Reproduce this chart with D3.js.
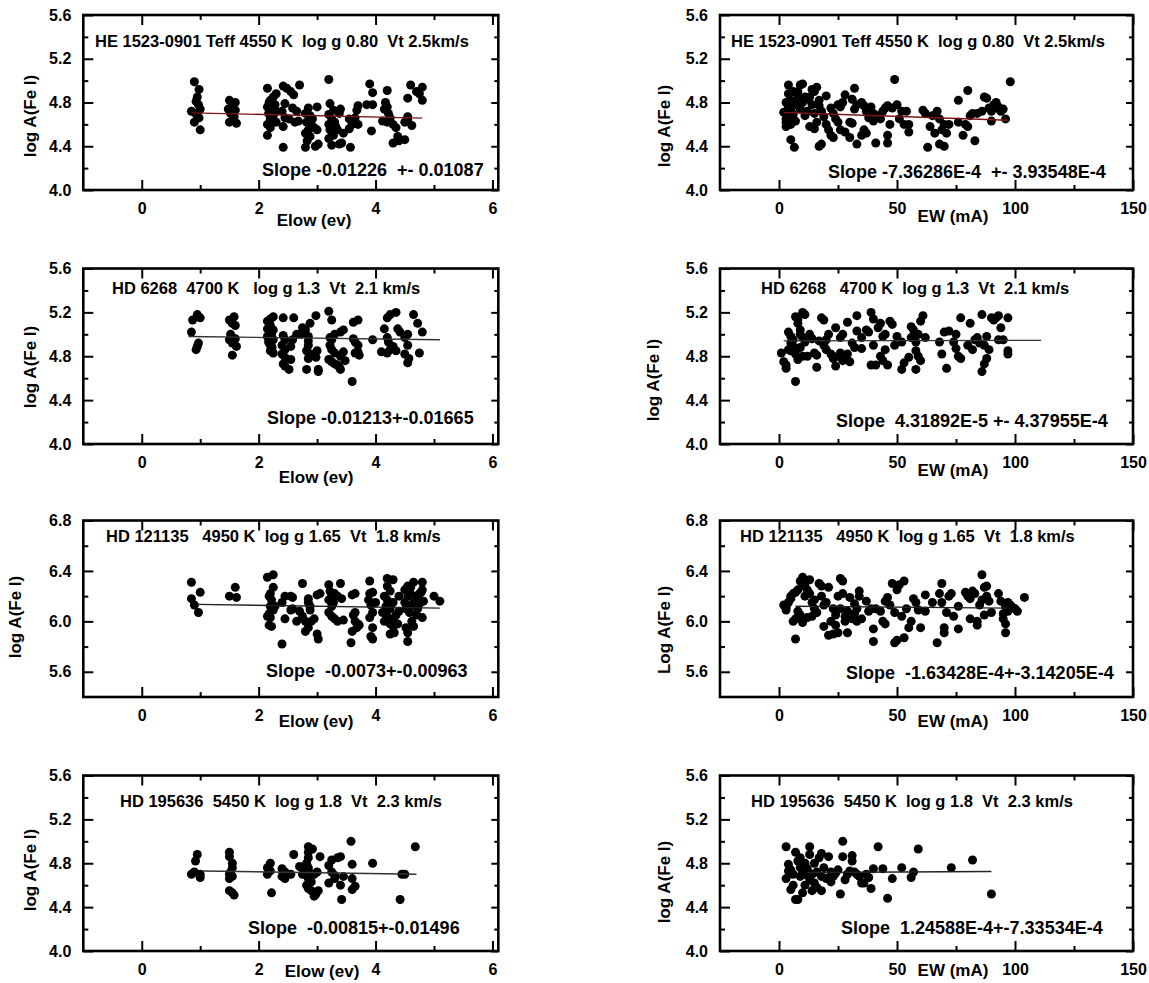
<!DOCTYPE html>
<html><head><meta charset="utf-8">
<script src="https://cdn.jsdelivr.net/npm/d3@7"></script>
<style>html,body{margin:0;padding:0;background:#fff;}text{white-space:pre;}</style>
</head><body>
<script>
// ---------- DATA ----------
// Panel axis ticks
const elowTicks = [0, 2, 4, 6];
const elowMinor = [1, 3, 5];
const ewTicks = [0, 50, 100, 150];
const ewMinor = [25, 75, 125];
const yTicksLow = [4.0, 4.4, 4.8, 5.2, 5.6];
const yMinorLow = [4.2, 4.6, 5.0, 5.4];
const yTicksHigh = [5.6, 6.0, 6.4, 6.8];
const yMinorHigh = [5.8, 6.2, 6.6];

// HE 1523-0901 : [Elow, logA]
const he1523Elow = [
[0.9,4.99],[0.98,4.92],[0.95,4.85],[0.93,4.81],[0.97,4.78],[0.85,4.72],[1.0,4.74],[0.92,4.70],[0.98,4.66],[0.9,4.62],[1.0,4.55],[0.95,4.68],
[1.5,4.82],[1.6,4.80],[1.55,4.77],[1.48,4.74],[1.6,4.73],[1.52,4.70],[1.58,4.67],[1.5,4.62],[1.62,4.61],
[2.15,4.93],[2.3,4.88],[2.25,4.85],[2.2,4.82],[2.18,4.80],[2.28,4.78],[2.15,4.76],[2.22,4.74],[2.3,4.72],[2.17,4.70],[2.25,4.68],[2.2,4.65],[2.15,4.60],[2.2,4.57],[2.15,4.50],[2.3,4.62],
[2.42,4.95],[2.48,4.93],[2.45,4.79],[2.4,4.72],[2.45,4.66],[2.42,4.58],[2.42,4.39],
[2.55,4.90],[2.6,4.87],[2.58,4.75],[2.52,4.65],[2.62,4.62],[2.7,4.96],[2.65,4.72],[2.68,4.63],
[2.85,4.75],[2.8,4.70],[2.88,4.68],[2.82,4.62],[2.9,4.60],[2.85,4.55],[2.8,4.52],[2.88,4.49],[2.83,4.45],[2.8,4.39],[2.95,4.57],[3.0,4.76],[3.0,4.55],[3.02,4.42],[2.97,4.40],[2.92,4.65],
[3.2,5.01],[3.22,4.79],[3.28,4.73],[3.2,4.69],[3.25,4.65],[3.3,4.62],[3.2,4.60],[3.32,4.58],[3.22,4.55],[3.28,4.50],[3.2,4.47],[3.25,4.41],[3.35,4.55],[3.4,4.74],[3.38,4.70],[3.42,4.43],[3.38,4.42],[3.45,4.52],
[3.55,4.65],[3.6,4.60],[3.55,4.56],[3.57,4.39],[3.7,4.77],[3.68,4.73],[3.65,4.66],[3.7,4.60],
[3.9,4.97],[3.85,4.78],[3.95,4.89],[3.95,4.78],[3.93,4.54],[4.12,4.63],
[4.2,4.91],[4.17,4.80],[4.2,4.76],[4.15,4.74],[4.22,4.70],[4.25,4.66],[4.2,4.62],[4.3,4.60],[4.35,4.57],[4.3,4.43],[4.4,4.45],[4.38,4.49],
[4.55,4.84],[4.6,4.96],[4.55,4.67],[4.55,4.64],[4.5,4.62],[4.62,4.59],[4.5,4.46],[4.7,4.90],[4.75,4.88],[4.8,4.94],[4.8,4.82]
];
const he1523ElowFit = [[0.85, 4.705], [4.8, 4.657]];

// HE 1523-0901 : [EW, logA]
const he1523EW = [
[2,4.71],[3,4.62],[3,4.58],[4,4.96],[4,4.88],[5,4.82],[3,4.80],[4,4.76],[5,4.73],[6,4.69],[4,4.67],[3,4.65],[5,4.60],[7,4.63],[8,4.85],[8,4.90],[9,4.96],[10,4.97],[6,4.90],[7,4.78],[9,4.74],[5,4.46],[6.5,4.39],[10,4.80],[11,4.85],[12,4.72],[12,4.83],[11,4.68],
[14,4.92],[15,4.90],[16,4.94],[13,4.85],[14,4.78],[15,4.70],[13,4.58],[15,4.56],[17,4.82],[17,4.77],[18,4.72],[16,4.62],[17,4.40],[18,4.42],[20,4.86],[19,4.67],[20,4.60],
[21,4.55],[22,4.50],[23,4.48],[22,4.75],[23,4.70],[24,4.65],[25,4.62],[26,4.76],[25,4.78],[27,4.80],[28,4.87],[28,4.53],[26,4.55],[30,4.62],[30,4.48],
[32,4.93],[31,4.83],[33,4.78],[32,4.74],[31,4.61],[33,4.42],[35,4.80],[36,4.77],[37,4.72],[36,4.55],[35,4.50],[37,4.52],[38,4.66],[39,4.76],[40,4.70],[41,4.43],[40,4.63],
[42,4.68],[43,4.65],[44,4.72],[45,4.75],[46,4.77],[47,4.60],[46,4.50],[46,4.43],[48,4.75],[49,5.01],[50,4.78],[51,4.65],[52,4.72],[53,4.60],
[54,4.72],[55,4.60],[55,4.53],[61,4.73],[62,4.70],[63,4.39],[64,4.58],[65,4.68],[66,4.52],[67,4.72],[68,4.65],[69,4.55],[70,4.60],[68,4.42],[70,4.40],[71,4.52],[72,4.60],
[76,4.82],[76,4.62],[78,4.50],[79,4.60],[80,4.91],[80,4.58],[81,4.68],[82,4.70],[83,4.45],[84,4.70],[86,4.72],[87,4.85],[88,4.84],[89,4.75],[90,4.63],[90,4.72],[91,4.78],[92,4.80],[93,4.76],[94,4.72],[95,4.74],[96,4.65],[98,4.99],[92,4.75]
];
const he1523EWFit = [[2, 4.708], [97, 4.638]];

// HD 6268 : [Elow, logA]
const hd6268Elow = [
[0.87,5.13],[0.95,5.18],[1.0,5.15],[0.85,5.02],[0.97,4.92],[0.95,4.89],[0.93,4.86],
[1.5,5.13],[1.55,5.10],[1.58,5.16],[1.6,5.08],[1.52,5.00],[1.55,4.97],[1.6,4.96],[1.5,4.95],[1.55,4.92],[1.62,4.89],[1.55,4.81],
[2.25,5.16],[2.2,5.14],[2.15,5.12],[2.2,5.08],[2.15,5.05],[2.25,5.04],[2.18,5.02],[2.22,5.00],[2.15,4.98],[2.2,4.96],[2.25,4.95],[2.17,4.93],[2.2,4.90],[2.23,4.88],[2.2,4.85],[2.25,4.83],
[2.42,5.15],[2.42,4.99],[2.45,4.95],[2.4,4.90],[2.45,4.86],[2.4,4.82],[2.45,4.79],[2.42,4.73],[2.45,4.71],[2.52,4.68],[2.55,4.77],[2.55,4.89],[2.58,4.95],[2.6,5.15],[2.65,5.00],
[2.75,5.06],[2.8,5.04],[2.72,5.00],[2.85,4.98],[2.85,4.94],[2.88,5.10],[2.85,4.90],[2.82,4.85],[2.88,4.82],[2.85,4.78],[2.82,4.68],[2.95,4.82],[2.98,4.79],[3.0,4.85],[2.98,5.17],[3.02,4.66],[3.02,4.68],
[3.2,5.21],[3.25,5.13],[3.22,4.97],[3.25,4.95],[3.22,4.90],[3.25,4.86],[3.3,4.83],[3.2,4.77],[3.25,4.75],[3.3,4.73],[3.35,4.72],[3.38,4.70],[3.4,4.68],[3.3,5.00],[3.4,5.02],[3.45,5.04],[3.4,4.80],[3.45,4.84],[3.48,4.76],
[3.6,4.57],[3.62,5.11],[3.7,5.13],[3.62,4.96],[3.65,4.93],[3.7,4.90],[3.65,4.83],[3.72,4.81],[3.7,4.84],
[3.95,4.95],
[4.2,5.15],[4.25,5.18],[4.35,5.20],[4.15,5.05],[4.2,4.97],[4.22,4.93],[4.3,4.89],[4.25,4.86],[4.1,4.84],[4.2,4.83],[4.35,4.85],[4.38,5.05],[4.42,5.02],
[4.5,4.97],[4.55,5.00],[4.55,4.90],[4.5,4.82],[4.57,4.78],[4.55,4.74],[4.65,5.18],[4.72,5.10],[4.8,5.02],[4.75,4.83]
];
const hd6268ElowFit = [[0.8, 4.98], [5.1, 4.95]];

// HD 6268 : [EW, logA]
const hd6268EW = [
[1,4.83],[2,4.75],[3,4.72],[3,4.69],[4,4.86],[4,5.02],[5,4.98],[6,4.95],[5,4.92],[6,4.89],[5,4.85],[7,4.82],[7,5.16],[8,5.14],[8,5.10],[9,5.04],[10,5.20],[11,5.18],[9,5.00],[10,4.97],[11,4.93],[9,4.88],[10,4.80],[8,4.77],[7,4.57],[12,4.80],[13,5.00],[14,4.96],
[15,4.83],[16,4.70],[16,4.81],[17,4.94],[18,5.15],[19,5.13],[19,4.90],[20,4.95],[20,4.86],[21,5.00],[22,4.82],[23,4.78],[24,5.06],[24,4.71],[25,4.80],[26,4.83],[26,4.97],[27,5.00],[27,4.76],
[28,4.78],[29,4.82],[30,4.75],[29,5.11],[31,4.92],[32,4.88],[33,5.17],[33,5.03],[35,4.87],[35,4.97],[37,5.04],[38,5.02],[39,5.20],[40,5.14],[39,4.72],[40,4.90],[41,4.72],
[42,5.06],[43,5.10],[43,4.80],[44,4.98],[44,4.76],[45,4.86],[45,5.00],[46,4.72],[47,5.12],[48,5.09],[49,4.90],[50,4.98],
[52,4.93],[52,4.68],[53,4.74],[55,4.79],[56,4.97],[56,5.07],[57,5.04],[58,4.85],[58,4.93],[59,5.00],[59,4.80],[58,4.68],[60,4.76],[60,5.12],[61,5.17],[62,4.97],
[68,4.93],[69,4.82],[70,5.02],[71,4.69],[72,5.03],[74,4.93],[75,5.00],[75,4.87],[76,4.80],[77,4.78],[77,5.15],
[80,4.90],[81,5.10],[82,4.86],[83,4.95],[84,4.97],[85,4.92],[86,5.18],[87,4.90],[86,4.66],[87,4.73],[88,4.78],[88,4.98],[89,4.86],[90,5.15],[91,5.13],[92,5.15],[93,5.17],[93,4.95],[94,5.06],[95,4.95],[97,5.15],[97,4.85],[97,4.82]
];
const hd6268EWFit = [[2, 4.94], [111, 4.945]];

// HD 121135 : [Elow, logA]
const hd121135Elow = [
[0.85,6.31],[0.85,6.18],[0.9,6.13],[0.97,6.07],[1.0,6.23],
[1.5,6.20],[1.6,6.27],[1.62,6.19],
[2.15,6.35],[2.25,6.37],[2.25,6.27],[2.2,6.22],[2.18,6.20],[2.22,6.17],[2.2,6.12],[2.25,6.09],[2.18,6.06],[2.2,6.03],[2.15,6.04],[2.22,5.96],[2.18,5.97],[2.28,6.12],
[2.4,6.15],[2.45,6.20],[2.55,6.20],[2.58,6.19],[2.45,6.02],[2.55,6.09],[2.58,6.10],[2.4,5.82],[2.65,6.00],
[2.75,6.30],[2.7,6.08],[2.75,6.04],[2.8,6.00],[2.85,6.18],[2.85,6.15],[2.88,6.09],[2.8,5.92],[2.9,6.00],[2.95,6.02],[3.0,6.21],[3.05,6.22],[3.0,5.90],[3.02,5.86],[2.88,6.12],[2.85,5.95],
[3.2,6.29],[3.22,6.24],[3.25,6.20],[3.2,6.17],[3.28,6.15],[3.25,6.12],[3.2,6.07],[3.25,6.04],[3.3,6.02],[3.35,6.00],[3.4,6.30],[3.35,6.20],[3.42,6.18],[3.45,6.01],[3.3,6.22],
[3.6,6.21],[3.65,6.22],[3.62,6.05],[3.65,6.00],[3.7,5.98],[3.6,5.92],[3.58,5.83],[3.68,5.95],[3.72,5.97],[3.65,6.07],
[3.9,6.32],[3.9,6.22],[3.95,6.23],[3.88,6.17],[3.92,6.13],[3.95,6.07],[3.9,6.03],[3.95,5.95],[3.92,5.88],[3.95,5.86],[4.0,6.15],
[4.2,6.34],[4.3,6.33],[4.2,6.28],[4.25,6.24],[4.15,6.20],[4.2,6.17],[4.3,6.15],[4.18,6.12],[4.25,6.10],[4.12,6.07],[4.2,6.04],[4.3,6.02],[4.15,6.00],[4.25,5.98],[4.3,5.96],[4.35,6.05],[4.38,5.98],[4.25,5.90],[4.32,5.91],[4.4,6.08],[4.4,6.20],
[4.5,6.25],[4.55,6.28],[4.6,6.27],[4.65,6.31],[4.5,6.15],[4.55,6.20],[4.6,6.22],[4.52,6.10],[4.58,6.07],[4.6,6.12],[4.65,6.15],[4.7,6.20],[4.7,6.18],[4.52,5.95],[4.55,5.91],[4.55,5.84],[4.65,5.96],[4.62,6.00],[4.7,6.05],[4.72,6.10],[4.75,6.14],[4.78,6.23],[4.8,6.31],[4.8,6.25],[4.82,6.16],[4.8,6.03],[4.75,6.22],
[5.0,6.20],[5.1,6.16]
];
const hd121135ElowFit = [[0.95, 6.135], [5.1, 6.105]];

// HD 121135 : [EW, logA]
const hd121135EW = [
[2,6.13],[3,6.09],[3,6.11],[4,6.15],[5,6.20],[5,6.18],[6,6.22],[6,6.00],[7,5.86],[7,6.23],[7,6.02],[8,6.08],[9,6.32],[10,6.35],[10,6.28],[8,6.25],[9,6.05],[10,5.99],[11,6.20],[11,6.30],[12,6.25],[12,6.03],[13,6.33],[13,6.22],[14,6.15],[14,6.04],[15,6.17],[15,6.10],[16,6.07],
[17,6.30],[18,6.28],[18,6.20],[19,5.96],[19,6.13],[20,6.15],[21,6.27],[21,5.89],[22,6.00],[23,6.10],[23,5.90],[24,6.05],[24,5.97],[25,6.20],[25,5.91],[26,6.34],[26,6.10],
[27,6.32],[27,6.22],[28,6.04],[28,6.00],[29,5.91],[29,6.08],[30,6.19],[31,6.02],[32,6.06],[32,6.14],[33,6.10],[33,6.00],[34,6.24],[34,6.20],[35,6.02],
[37,6.16],[38,6.08],[39,6.10],[40,5.94],[40,5.84],[41,6.10],[43,6.08],[44,6.00],[45,5.98],[45,6.16],[46,6.19],[47,6.13],[48,6.30],[49,5.83],[49,6.07],[50,6.25],[50,5.85],[51,6.29],[52,6.04],[53,6.32],[53,5.87],
[54,6.10],[55,5.95],[56,6.00],[57,6.18],[58,6.15],[59,6.09],[60,5.95],[62,6.21],[62,6.08],
[65,6.15],[67,5.83],[68,6.22],[69,6.30],[69,6.15],[70,5.95],[70,5.91],[71,6.07],[72,6.20],[73,6.22],[74,6.04],[76,5.94],[76,6.12],
[79,6.23],[80,6.20],[81,6.18],[81,6.02],[82,6.24],[83,6.22],[84,5.97],[84,6.00],[85,6.13],[86,6.17],[86,6.37],[87,6.27],[87,6.05],[88,6.20],[88,6.28],[89,6.16],[90,6.07],[93,6.22],[94,6.16],[95,6.02],[95,6.06],[96,6.12],[96,5.98],[96,5.91],[97,6.08],[97,6.15],[98,6.13],[99,6.11],[100,6.10],[101,6.08],[104,6.19]
];
const hd121135EWFit = [[7, 6.12], [97, 6.105]];

// HD 195636 : [Elow, logA]
const hd195636Elow = [
[0.85,4.70],[0.92,4.82],[0.95,4.88],[0.9,4.72],[1.0,4.70],[1.0,4.67],
[1.5,4.90],[1.5,4.86],[1.55,4.80],[1.55,4.76],[1.5,4.70],[1.5,4.66],[1.55,4.68],[1.5,4.55],[1.55,4.53],[1.58,4.51],[1.52,4.72],
[2.15,4.76],[2.2,4.80],[2.2,4.73],[2.15,4.70],[2.22,4.53],
[2.4,4.75],[2.45,4.72],[2.4,4.68],[2.45,4.66],[2.55,4.70],[2.6,4.88],
[2.7,4.77],[2.75,4.70],[2.85,4.95],[2.85,4.90],[2.85,4.85],[2.82,4.80],[2.85,4.76],[2.8,4.73],[2.88,4.71],[2.82,4.69],[2.85,4.66],[2.9,4.63],[2.82,4.60],[2.85,4.57],[2.9,4.55],[2.95,4.70],[3.0,4.72],[2.95,4.50],[2.98,4.52],[3.02,4.55],[3.05,4.86],[2.92,4.93],
[3.2,4.78],[3.25,4.83],[3.25,4.72],[3.2,4.62],[3.3,4.69],[3.3,4.66],[3.35,4.85],[3.4,4.86],[3.4,4.60],[3.45,4.68],[3.42,4.47],
[3.58,5.00],[3.6,4.79],[3.6,4.66],[3.6,4.56],[3.65,4.59],
[3.95,4.80],
[4.45,4.70],[4.5,4.70],[4.42,4.47],[4.68,4.95]
];
const hd195636ElowFit = [[1.05, 4.73], [4.7, 4.70]];

// HD 195636 : [EW, logA]
const hd195636EW = [
[3,4.95],[4,4.79],[4,4.73],[3,4.66],[5,4.56],[6,4.60],[5,4.74],[6,4.70],[7,4.90],[7,4.47],[8,4.47],[8,4.82],[9,4.85],[9,4.76],[9,4.68],[10,4.53],[10,4.72],[11,4.80],[11,4.60],[12,4.69],[12,4.75],[13,4.95],[13,4.88],[13,4.65],[14,4.55],[14,4.70],[15,4.80],[15,4.62],[16,4.58],[16,4.72],[17,4.85],[18,4.89],[18,4.68],[18,4.55],[19,4.76],[20,4.66],[21,4.86],[22,4.72],[22,4.63],[23,4.68],[24,4.71],[25,4.74],[26,4.52],[27,5.00],[27,4.86],[28,4.65],[29,4.70],[30,4.73],[31,4.87],[31,4.82],[32,4.72],[33,4.70],[34,4.68],[35,4.62],[36,4.62],[37,4.70],[38,4.67],[39,4.57],[40,4.75],[42,4.95],[44,4.75],[46,4.48],[48,4.66],[52,4.76],[56,4.67],[57,4.72],[59,4.93],[73,4.76],[82,4.83],[90,4.52]
];
const hd195636EWFit = [[12, 4.715], [90, 4.725]];

// Texts
const starTitles = [
  "HE 1523-0901 Teff 4550 K  log g 0.80  Vt 2.5km/s",
  "HE 1523-0901 Teff 4550 K  log g 0.80  Vt 2.5km/s",
  "HD 6268  4700 K   log g 1.3  Vt  2.1 km/s",
  "HD 6268   4700 K  log g 1.3  Vt  2.1 km/s",
  "HD 121135   4950 K  log g 1.65  Vt  1.8 km/s",
  "HD 121135   4950 K  log g 1.65  Vt  1.8 km/s",
  "HD 195636  5450 K  log g 1.8  Vt  2.3 km/s",
  "HD 195636  5450 K  log g 1.8  Vt  2.3 km/s"
];
const slopeTexts = [
  "Slope -0.01226  +- 0.01087",
  "Slope -7.36286E-4  +- 3.93548E-4",
  "Slope -0.01213+-0.01665",
  "Slope  4.31892E-5 +- 4.37955E-4",
  "Slope  -0.0073+-0.00963",
  "Slope  -1.63428E-4+-3.14205E-4",
  "Slope  -0.00815+-0.01496",
  "Slope  1.24588E-4+-7.33534E-4"
];
const yTitles = ["log A(Fe I)","log A(Fe I)","log A(Fe I)","log A(Fe I)","log A(Fe I)","Log A(Fe I)","log A(Fe I)","log A(Fe I)"];
const xTitles = ["Elow (ev)","EW (mA)"];

// ---------- LAYOUT ----------
const FONT = "'Liberation Sans', Arial, Helvetica, sans-serif";
const cols = [{left: 83.3, right: 498.3, dom: [-1, 6.1], ticks: elowTicks, minor: elowMinor, xt: xTitles[0]},
              {left: 720, right: 1133, dom: [-25, 150], ticks: ewTicks, minor: ewMinor, xt: xTitles[1]}];
const rows = [{top: 15, bottom: 190, dom: [4.0, 5.6], ticks: yTicksLow, minor: yMinorLow},
              {top: 268.5, bottom: 444, dom: [4.0, 5.6], ticks: yTicksLow, minor: yMinorLow},
              {top: 520.5, bottom: 697, dom: [5.4, 6.8], ticks: yTicksHigh, minor: yMinorHigh},
              {top: 775.5, bottom: 951, dom: [4.0, 5.6], ticks: yTicksLow, minor: yMinorLow}];
const pointSets = [he1523Elow, he1523EW, hd6268Elow, hd6268EW, hd121135Elow, hd121135EW, hd195636Elow, hd195636EW];
const fitSets = [he1523ElowFit, he1523EWFit, hd6268ElowFit, hd6268EWFit, hd121135ElowFit, hd121135EWFit, hd195636ElowFit, hd195636EWFit];
const fitColors = ["#7d1515","#7d1515","#333","#333","#222","#222","#333","#222"];
// text placement
const titlePos = [[95,47],[731,47],[112,294],[761,294],[106,541.5],[740,541.5],[120,807],[751,807]];
const slopePos = [[262,176],[828,178],[267,424],[836,427],[266,677],[846,679],[248,934],[841,934]];
const xTitlePos = [[314,226],[953,222],[316,483],[953,476],[316,727],[953,727],[322,977],[953,976]];
const yTitlePos = [[30,116],[664,126],[30,367],[653,380],[15,617],[664,630],[30,870],[664,882]];

const svg = d3.select("body").append("svg").attr("width", 1149).attr("height", 983)
  .style("font-family", FONT);

function styleAxis(sel, fs) {
  sel.select(".domain").remove();
  sel.selectAll("line").attr("stroke", "#000").attr("stroke-width", 2);
  sel.selectAll("text").attr("font-family", FONT).attr("font-weight", "bold")
     .attr("font-size", fs).attr("fill", "#000");
}

rows.forEach((r, ri) => {
  cols.forEach((c, ci) => {
    const i = ri * 2 + ci;
    const x = d3.scaleLinear().domain(c.dom).range([c.left, c.right]);
    const y = d3.scaleLinear().domain(r.dom).range([r.bottom, r.top]);
    const g = svg.append("g");

    // axes (ticks inward, mirrored)
    g.append("g").attr("transform", `translate(0,${r.bottom})`)
      .call(d3.axisBottom(x).tickValues(c.ticks).tickSize(-10).tickPadding(12.5).tickFormat(d3.format("d")))
      .call(s => styleAxis(s, 16));
    g.append("g").attr("transform", `translate(0,${r.bottom})`)
      .call(d3.axisBottom(x).tickValues(c.minor).tickSize(-5).tickFormat(""))
      .call(s => styleAxis(s, 16));
    g.append("g").attr("transform", `translate(0,${r.top})`)
      .call(d3.axisTop(x).tickValues(c.ticks).tickSize(-10).tickFormat(""))
      .call(s => styleAxis(s, 16));
    g.append("g").attr("transform", `translate(0,${r.top})`)
      .call(d3.axisTop(x).tickValues(c.minor).tickSize(-5).tickFormat(""))
      .call(s => styleAxis(s, 16));
    g.append("g").attr("transform", `translate(${c.left},0)`)
      .call(d3.axisLeft(y).tickValues(r.ticks).tickSize(-10).tickPadding(12).tickFormat(d3.format(".1f")))
      .call(s => styleAxis(s, 16));
    g.append("g").attr("transform", `translate(${c.left},0)`)
      .call(d3.axisLeft(y).tickValues(r.minor).tickSize(-5).tickFormat(""))
      .call(s => styleAxis(s, 16));
    g.append("g").attr("transform", `translate(${c.right},0)`)
      .call(d3.axisRight(y).tickValues(r.ticks).tickSize(-7).tickFormat(""))
      .call(s => styleAxis(s, 16));
    g.append("g").attr("transform", `translate(${c.right},0)`)
      .call(d3.axisRight(y).tickValues(r.minor).tickSize(-4).tickFormat(""))
      .call(s => styleAxis(s, 16));

    // points
    g.append("g").selectAll("circle").data(pointSets[i]).join("circle")
      .attr("cx", d => x(d[0])).attr("cy", d => y(d[1])).attr("r", 4.5).attr("fill", "#000");

    // fit line
    g.append("path").datum(fitSets[i])
      .attr("d", d3.line().x(d => x(d[0])).y(d => y(d[1])))
      .attr("fill", "none").attr("stroke", fitColors[i]).attr("stroke-width", 1.4);

    // frame
    g.append("rect").attr("x", c.left).attr("y", r.top)
      .attr("width", c.right - c.left).attr("height", r.bottom - r.top)
      .attr("fill", "none").attr("stroke", "#000").attr("stroke-width", 2.6);

    // texts
    g.append("text").attr("x", titlePos[i][0]).attr("y", titlePos[i][1])
      .attr("font-size", 16.5).attr("font-weight", "bold").text(starTitles[i]);
    g.append("text").attr("x", slopePos[i][0]).attr("y", slopePos[i][1])
      .attr("font-size", 18).attr("font-weight", "bold").text(slopeTexts[i]);
    g.append("text").attr("x", xTitlePos[i][0]).attr("y", xTitlePos[i][1])
      .attr("text-anchor", "middle").attr("font-size", 17).attr("font-weight", "bold").text(c.xt);
    g.append("text").attr("transform", `translate(${yTitlePos[i][0]},${yTitlePos[i][1]}) rotate(-90)`)
      .attr("dy", "0.35em").attr("text-anchor", "middle").attr("font-size", 17).attr("font-weight", "bold").text(yTitles[i]);
  });
});
</script>
</body></html>
